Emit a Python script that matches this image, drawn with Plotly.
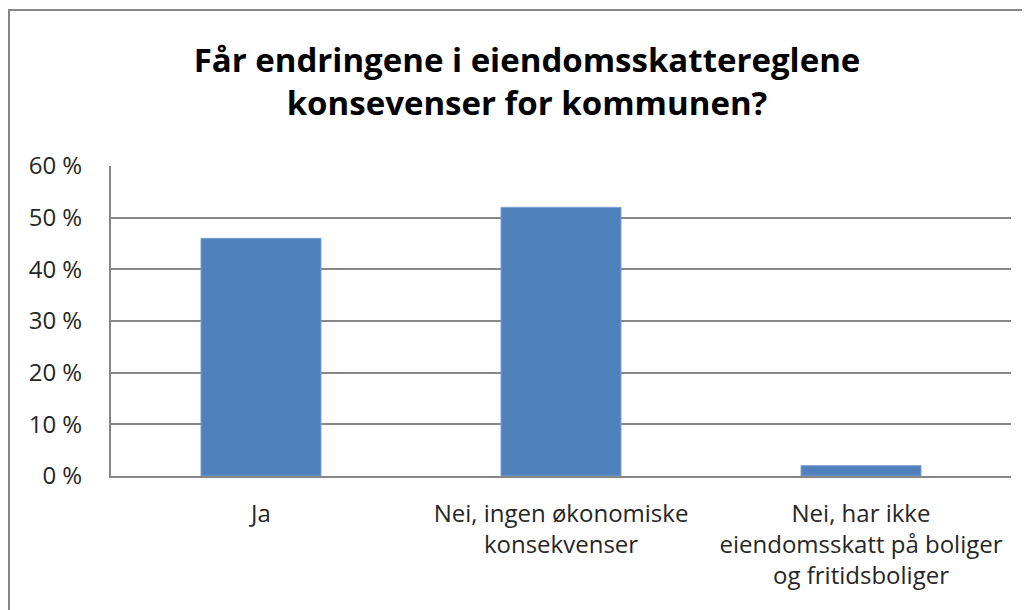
import plotly.graph_objects as go

categories = ["Ja", "Nei, ingen økonomiske<br>konsekvenser", "Nei, har ikke<br>eiendomsskatt på boliger<br>og fritidsboliger"]
values = [46, 52, 2]
y_ticks = [0, 10, 20, 30, 40, 50, 60]
y_ticklabels = [f"{v} %" for v in y_ticks]
title_text = "Får endringene i eiendomsskattereglene<br>konsevenser for kommunen?"

FONT = "Open Sans, sans-serif"
GRID = "#868686"
OFF = 8  # page body margin

fig = go.Figure()
fig.add_trace(go.Bar(
    x=categories, y=values,
    marker=dict(color="#4F81BD", line=dict(color="#7DA2D1", width=1)),
    width=0.4,
))

L = 111 - OFF
T = 166 - OFF
R = 1030 - (1011 - OFF)
B = 610 - (476 - OFF)
W, H = 1030 - L - R, 610 - T - B

fig.update_layout(
    width=1030, height=610,
    margin=dict(l=L, r=R, t=T, b=B, autoexpand=False),
    paper_bgcolor="white", plot_bgcolor="white",
    showlegend=False,
    title=dict(text=f"<b>{title_text}</b>", x=(527 - OFF) / 1030, xanchor="center",
               y=1 - (72 - OFF) / 610, yanchor="middle",
               font=dict(family=FONT, size=33, color="#000000")),
    font=dict(family=FONT, size=24, color="#262626"),
    bargap=0.6,
)
fig.update_yaxes(range=[0, 60], tickvals=y_ticks, ticktext=y_ticklabels,
                 showgrid=True, gridcolor=GRID, gridwidth=2,
                 showline=True, linecolor=GRID, linewidth=2,
                 zeroline=False, ticks="", ticklabelstandoff=22,
                 tickfont=dict(size=24, color="#262626"))
fig.update_xaxes(showline=True, linecolor=GRID, linewidth=2, ticks="",
                 ticklabelstandoff=15, tickfont=dict(size=24, color="#262626"))

# outer chart border
x0 = (9 - OFF - L) / W
x1 = (1045 - L) / W
y1 = (476 - 10) / H
y0 = (476 - 625) / H
fig.add_shape(type="rect", xref="paper", yref="paper", x0=x0, x1=x1, y0=y0, y1=y1,
              line=dict(color=GRID, width=2), fillcolor="rgba(0,0,0,0)", layer="below")

fig.write_html("out.html")
